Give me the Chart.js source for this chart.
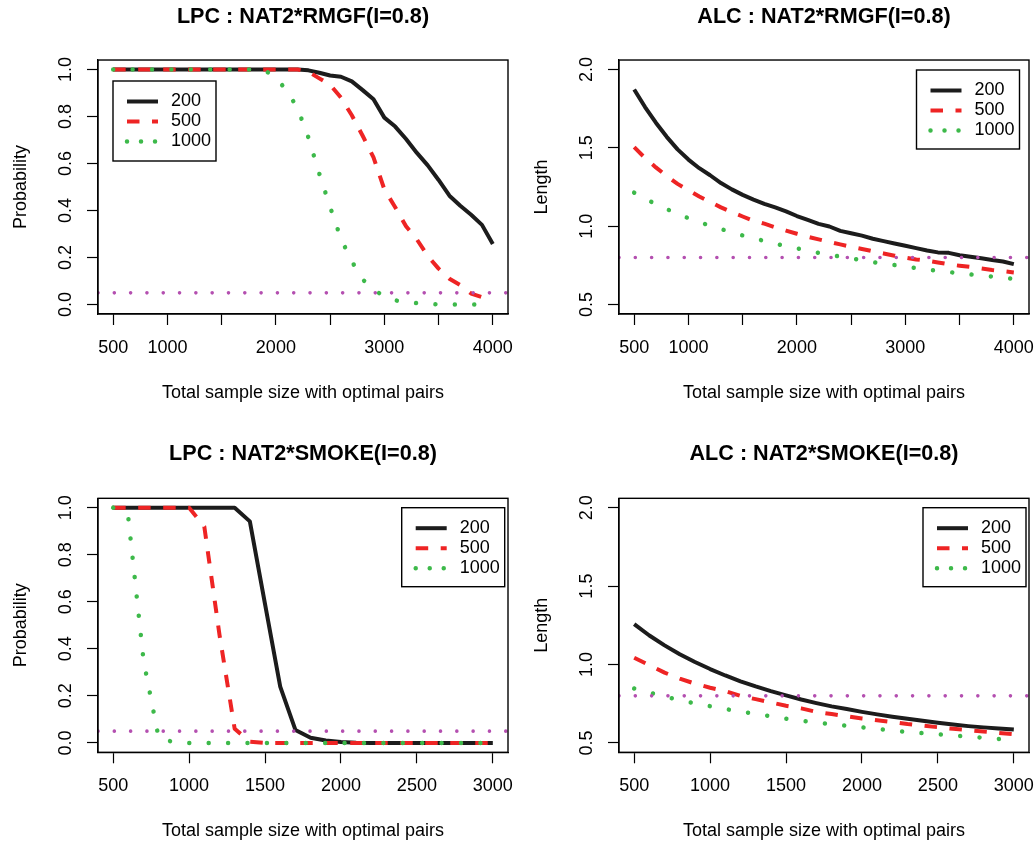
<!DOCTYPE html>
<html>
<head>
<meta charset="utf-8">
<script src="https://cdn.jsdelivr.net/npm/chart.js@4/dist/chart.umd.min.js"></script>
<style>
  html, body { margin:0; padding:0; background:#fff; }
  body { width:1036px; height:843px; position:relative; overflow:hidden; }
  canvas { position:absolute; }
</style>
</head>
<body>
<canvas id="c1" width="518" height="420" style="left:0px;top:0px;width:518px;height:420px"></canvas>
<canvas id="c2" width="515" height="420" style="left:521px;top:0px;width:515px;height:420px"></canvas>
<canvas id="c3" width="518" height="423" style="left:0px;top:420px;width:518px;height:423px"></canvas>
<canvas id="c4" width="515" height="423" style="left:521px;top:420px;width:515px;height:423px"></canvas>
<script>
// ---------------- DATA ----------------
const legendLabels = ['200', '500', '1000'];

const xRmgf = [500,600,700,800,900,1000,1100,1200,1300,1400,1500,1600,1700,1800,1900,2000,2100,2200,
               2300,2400,2500,2600,2700,2800,2900,3000,3100,3200,3300,3400,3500,3600,3700,3800,3900,4000];
const xSmoke = [500,600,700,800,900,1000,1100,1200,1300,1400,1500,1600,1700,1800,1900,2000,
                2100,2200,2300,2400,2500,2600,2700,2800,2900,3000];

// LPC : NAT2*RMGF
const lpcRmgf200  = [1,1,1,1,1,1,1,1,1,1,1,1,1,1,1,1,1,1,
                     0.996,0.986,0.974,0.969,0.949,0.912,0.873,0.795,0.757,0.704,0.645,0.592,0.53,0.463,0.42,0.382,0.339,0.258];
const lpcRmgf500  = [1,1,1,1,1,1,1,1,1,1,1,1,1,1,1,1,1,1,
                     0.99,0.962,0.935,0.88,0.805,0.718,0.626,0.49,0.414,0.333,0.277,0.207,0.153,0.11,0.083,0.047,0.032,0.024];
const lpcRmgf1000 = [1,1,1,1,1,1,1,1,1,1,1,1,1,1,0.995,0.965,0.91,0.835,
                     0.71,0.557,0.415,0.28,0.184,0.107,0.064,0.035,0.018,0.01,0.006,0.003,0.001,0,0,0,0,0];

// ALC : NAT2*RMGF
const alcRmgf200  = [1.872,1.76,1.66,1.57,1.49,1.425,1.37,1.325,1.275,1.235,1.20,1.17,1.143,1.12,1.095,1.065,1.04,1.015,
                     0.998,0.97,0.955,0.94,0.92,0.905,0.89,0.875,0.86,0.845,0.833,0.83,0.815,0.805,0.795,0.785,0.775,0.758];
const alcRmgf500  = [1.504,1.435,1.375,1.32,1.27,1.23,1.19,1.155,1.12,1.09,1.062,1.035,1.016,0.993,0.972,0.952,0.933,0.916,
                     0.90,0.884,0.869,0.855,0.84,0.826,0.812,0.80,0.788,0.78,0.769,0.757,0.748,0.74,0.73,0.72,0.713,0.705];
const alcRmgf1000 = [1.214,1.176,1.14,1.109,1.08,1.051,1.026,1.003,0.982,0.962,0.941,0.923,0.906,0.889,0.873,0.859,0.845,0.83,
                     0.818,0.806,0.795,0.783,0.771,0.761,0.752,0.742,0.733,0.724,0.716,0.708,0.70,0.692,0.685,0.679,0.672,0.664];

// LPC : NAT2*SMOKE
const lpcSmoke200  = [1,1,1,1,1,1,1,1,1,0.942,0.59,0.239,0.055,0.022,0.01,0.004,0.001,0,0,0,0,0,0,0,0,0];
const lpcSmoke500  = [1,1,1,1,1,1,0.92,0.46,0.06,0.005,0,0,0,0,0,0,0,0,0,0,0,0,0,0,0,0];
const lpcSmoke1000 = [1,0.955,0.35,0.02,0.003,0,0,0,0,0,0,0,0,0,0,0,0,0,0,0,0,0,0,0,0,0];

// ALC : NAT2*SMOKE
const alcSmoke200  = [1.258,1.185,1.122,1.065,1.016,0.971,0.93,0.893,0.86,0.83,0.803,0.777,0.754,0.733,0.716,0.698,
                      0.682,0.667,0.654,0.641,0.629,0.617,0.607,0.599,0.592,0.585];
const alcSmoke500  = [1.043,0.996,0.948,0.91,0.878,0.852,0.83,0.80,0.779,0.758,0.737,0.72,0.698,0.684,0.67,0.656,
                      0.645,0.633,0.62,0.61,0.60,0.59,0.581,0.572,0.564,0.555];
const alcSmoke1000 = [0.847,0.821,0.796,0.773,0.752,0.734,0.716,0.70,0.685,0.67,0.654,0.642,0.63,0.619,0.609,0.599,
                      0.589,0.579,0.57,0.562,0.555,0.547,0.54,0.533,0.525,0.518];

// reference levels
const lpcTarget = 0.05;
const alcTarget = 0.8;

// tick values / labels
const xTicksRmgf = [500,1000,1500,2000,2500,3000,3500,4000];
const xTickLabelsRmgf = [500,1000,2000,3000,4000];
const xTicksSmoke = [500,1000,1500,2000,2500,3000];
const xTickLabelsSmoke = [500,1000,1500,2000,2500,3000];
const yTicksLPC = [0,0.2,0.4,0.6,0.8,1.0];
const yTicksALC = [0.5,1.0,1.5,2.0];

const titles = ['LPC : NAT2*RMGF(I=0.8)', 'ALC : NAT2*RMGF(I=0.8)', 'LPC : NAT2*SMOKE(I=0.8)', 'ALC : NAT2*SMOKE(I=0.8)'];
const xTitle = 'Total sample size with optimal pairs';
const yTitles = ['Probability', 'Length'];

// ---------------- STYLE ----------------
const FONT = '"Liberation Sans", Arial, Helvetica, sans-serif';
Chart.defaults.font.family = FONT;
Chart.defaults.color = '#000';

const seriesStyles = [
  { color:'#1c1c1c', width:4,   dash:[],          cap:'butt',  legendDash:[] },
  { color:'#ee2424', width:4,   dash:[12.5,12.5], cap:'butt',  legendDash:[12.5,12.5] },
  { color:'#3db94a', width:4.5, dash:[0.01,19.4], cap:'round', legendDash:[0.01,14] }
];
const refStyle = { color:'#b44fb0', width:3.6, dash:[0.01,16.3], cap:'round' };

const boxPlugin = {
  id:'rBox',
  afterDraw(chart) {
    const a = chart.chartArea, ctx = chart.ctx;
    ctx.save();
    ctx.strokeStyle = '#000'; ctx.lineWidth = 1.4; ctx.setLineDash([]);
    ctx.strokeRect(a.left, a.top, a.right - a.left, a.bottom - a.top);
    ctx.restore();
  }
};

const legendPlugin = {
  id:'rLegend',
  afterDraw(chart, args, opts) {
    const ctx = chart.ctx, b = opts.box;
    ctx.save();
    ctx.setLineDash([]);
    ctx.fillStyle = '#fff';
    ctx.fillRect(b.x, b.y, b.w, b.h);
    ctx.strokeStyle = '#000'; ctx.lineWidth = 1.4;
    ctx.strokeRect(b.x, b.y, b.w, b.h);
    seriesStyles.forEach((st, i) => {
      const y = b.y + 20.5 + i * 20;
      ctx.beginPath();
      ctx.setLineDash(st.legendDash);
      ctx.lineCap = st.cap;
      ctx.lineWidth = st.width;
      ctx.strokeStyle = st.color;
      ctx.moveTo(b.x + 14, y); ctx.lineTo(b.x + 45, y);
      ctx.stroke();
      ctx.setLineDash([]);
      ctx.fillStyle = '#000';
      ctx.font = '18px ' + FONT;
      ctx.textBaseline = 'middle'; ctx.textAlign = 'left';
      ctx.fillText(legendLabels[i], b.x + 58, y);
    });
    ctx.restore();
  }
};

function pts(xs, ys) { return xs.map((x, i) => ({ x: x, y: ys[i] })); }

function makePanel(p) {
  const mk = (data, st) => ({
    data: data, borderColor: st.color, borderWidth: st.width, borderDash: st.dash,
    borderCapStyle: st.cap, borderJoinStyle: 'round', pointRadius: 0, fill: false, tension: 0
  });
  const datasets = [
    mk([{x:p.xMin, y:p.ref}, {x:p.xMax, y:p.ref}], refStyle),
    mk(pts(p.xs, p.s[2]), seriesStyles[2]),
    mk(pts(p.xs, p.s[1]), seriesStyles[1]),
    mk(pts(p.xs, p.s[0]), seriesStyles[0])
  ];
  const gridCfg = { display:true, drawOnChartArea:false, drawTicks:true, tickLength:11, tickColor:'#000', tickWidth:1.2 };
  new Chart(document.getElementById(p.id), {
    type:'line',
    data:{ datasets },
    options:{
      responsive:false, animation:false, events:[],
      layout:{ autoPadding:false, padding:{ left:0, right:p.padRight, top:0, bottom:0 } },
      plugins:{
        legend:{ display:false }, tooltip:{ enabled:false },
        title:{ display:true, fullSize:false, text:p.title, color:'#000',
                font:{ size:21.6, weight:'bold', family:FONT }, padding:{ top:p.titleTop, bottom:p.titleBottom } },
        rLegend:{ box:p.legendBox }
      },
      scales:{
        x:{
          type:'linear', min:p.xMin, max:p.xMax, bounds:'data',
          afterBuildTicks: s => { s.ticks = p.xTicks.map(v => ({ value:v })); },
          afterFit: s => { s.height = p.xAxisH; s.paddingLeft = 0; s.paddingRight = 0; },
          grid:gridCfg,
          border:{ display:true, color:'#000', width:1.2 },
          ticks:{ autoSkip:false, minRotation:0, maxRotation:0, padding:12.4, color:'#000',
                  font:{ size:18, family:FONT },
                  callback: v => p.xLabels.includes(v) ? String(v) : '' },
          title:{ display:true, text:xTitle, color:'#000', font:{ size:18, family:FONT },
                  padding:{ top:0, bottom:p.xTitlePad } }
        },
        y:{
          type:'linear', min:p.yMin, max:p.yMax, bounds:'data',
          afterBuildTicks: s => { s.ticks = p.yTicks.map(v => ({ value:v })); },
          afterFit: s => { s.width = 98; s.paddingTop = 0; s.paddingBottom = 0; },
          grid:gridCfg,
          border:{ display:true, color:'#000', width:1.2 },
          ticks:{ autoSkip:false, minRotation:90, maxRotation:90, crossAlign:'center', padding:8.5, color:'#000',
                  font:{ size:18, family:FONT },
                  callback: v => Number(v).toFixed(1) },
          title:{ display:true, text:p.yTitle, color:'#000', font:{ size:18, family:FONT },
                  padding:{ top:10.2, bottom:0 } }
        }
      }
    },
    plugins:[boxPlugin, legendPlugin]
  });
}

const topCommon = { titleTop:4, titleBottom:30.1, xAxisH:106, xTitlePad:16.2 };
const botCommon = { titleTop:21, titleBottom:31.4, xAxisH:90.7, xTitlePad:1.5 };

makePanel(Object.assign({}, topCommon, {
  id:'c1', padRight:10, title:titles[0], yTitle:yTitles[0],
  xs:xRmgf, s:[lpcRmgf200, lpcRmgf500, lpcRmgf1000], ref:lpcTarget,
  xMin:360, xMax:4140, xTicks:xTicksRmgf, xLabels:xTickLabelsRmgf,
  yMin:-0.04, yMax:1.04, yTicks:yTicksLPC,
  legendBox:{ x:113, y:81, w:103, h:80 }
}));
makePanel(Object.assign({}, topCommon, {
  id:'c2', padRight:7, title:titles[1], yTitle:yTitles[1],
  xs:xRmgf, s:[alcRmgf200, alcRmgf500, alcRmgf1000], ref:alcTarget,
  xMin:360, xMax:4140, xTicks:xTicksRmgf, xLabels:xTickLabelsRmgf,
  yMin:0.44, yMax:2.06, yTicks:yTicksALC,
  legendBox:{ x:395.5, y:70, w:103, h:79 }
}));
makePanel(Object.assign({}, botCommon, {
  id:'c3', padRight:10, title:titles[2], yTitle:yTitles[0],
  xs:xSmoke, s:[lpcSmoke200, lpcSmoke500, lpcSmoke1000], ref:lpcTarget,
  xMin:400, xMax:3100, xTicks:xTicksSmoke, xLabels:xTickLabelsSmoke,
  yMin:-0.04, yMax:1.04, yTicks:yTicksLPC,
  legendBox:{ x:401.7, y:87.7, w:103, h:79 }
}));
makePanel(Object.assign({}, botCommon, {
  id:'c4', padRight:7, title:titles[3], yTitle:yTitles[1],
  xs:xSmoke, s:[alcSmoke200, alcSmoke500, alcSmoke1000], ref:alcTarget,
  xMin:400, xMax:3100, xTicks:xTicksSmoke, xLabels:xTickLabelsSmoke,
  yMin:0.44, yMax:2.06, yTicks:yTicksALC,
  legendBox:{ x:402, y:87.7, w:103, h:79 }
}));
</script>
</body>
</html>
